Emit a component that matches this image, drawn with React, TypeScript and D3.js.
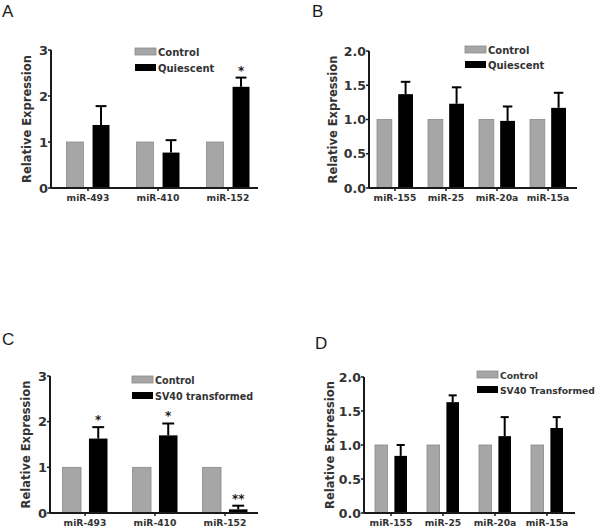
import React from "react";
import * as d3 from "d3";

// panel A / C categories
const mirsAC = ["miR-493", "miR-410", "miR-152"];
// panel B / D categories
const mirsBD = ["miR-155", "miR-25", "miR-20a", "miR-15a"];

const controlA = [1, 1, 1];
const quiescentA = [1.37, 0.77, 2.2];
const quiescentAErr = [0.41, 0.27, 0.2];
const starsA = ["", "", "*"];

const controlB = [1, 1, 1, 1];
const quiescentB = [1.37, 1.23, 0.98, 1.17];
const quiescentBErr = [0.18, 0.24, 0.21, 0.22];
const starsB = ["", "", "", ""];

const controlC = [1, 1, 1];
const sv40C = [1.63, 1.7, 0.08];
const sv40CErr = [0.25, 0.26, 0.08];
const starsC = ["*", "*", "**"];

const controlD = [1, 1, 1, 1];
const sv40D = [0.84, 1.63, 1.13, 1.25];
const sv40DErr = [0.16, 0.1, 0.28, 0.16];
const starsD = ["", "", "", ""];

const ticks3 = [0, 1, 2, 3];
const ticks2 = [0, 0.5, 1, 1.5, 2];

const FONT = "'DejaVu Sans', Verdana, sans-serif";
const GRAY = "#a6a6a6";
const INK = "#1a1a1a";

interface PanelProps {
  letter: string;
  letterPos: [number, number];
  cats: string[];
  control: number[];
  treated: number[];
  err: number[];
  stars: string[];
  legend: [string, string];
  legendSize: number;
  ticks: number[];
  tickFmt: (v: number) => string;
  tickSize: number;
  yMax: number;
  axisX: number;
  axisEnd: number;
  yTop: number;
  yBottom: number;
  firstCenter: number;
  step: number;
  half: number;
  pad: number;
  legendX: number;
  legendY: number;
  legendGap: number;
  labelX: number;
}

const Panel: React.FC<PanelProps> = (p) => {
  const y = d3.scaleLinear().domain([0, p.yMax]).range([p.yBottom, p.yTop]);
  const x = d3
    .scaleBand<string>()
    .domain(p.cats)
    .range([p.firstCenter - p.step / 2, p.firstCenter - p.step / 2 + p.step * p.cats.length]);
  const inner = d3
    .scaleBand<string>()
    .domain(["control", "treated"])
    .range([-p.half, p.half])
    .paddingInner(p.pad);
  const bw = inner.bandwidth();
  const cx = (c: string) => x(c)! + x.bandwidth() / 2;

  return (
    <g>
      <text x={p.letterPos[0]} y={p.letterPos[1]} fontFamily="'Liberation Sans', Arial, sans-serif" fontSize={17} fill={INK}>
        {p.letter}
      </text>

      {/* bars */}
      {p.cats.map((c, i) => (
        <g key={c}>
          <rect
            x={cx(c) + inner("control")!}
            y={y(p.control[i])}
            width={bw}
            height={p.yBottom - y(p.control[i])}
            fill={GRAY}
            stroke="#8a8a8a"
            strokeWidth={0.8}
          />
          <rect
            x={cx(c) + inner("treated")!}
            y={y(p.treated[i])}
            width={bw}
            height={p.yBottom - y(p.treated[i])}
            fill="#000"
          />
          {/* upper error bar */}
          <line
            x1={cx(c) + inner("treated")! + bw / 2}
            x2={cx(c) + inner("treated")! + bw / 2}
            y1={y(p.treated[i])}
            y2={y(p.treated[i] + p.err[i])}
            stroke="#000"
            strokeWidth={2}
          />
          <line
            x1={cx(c) + inner("treated")! + bw * 0.18}
            x2={cx(c) + inner("treated")! + bw * 0.82}
            y1={y(p.treated[i] + p.err[i])}
            y2={y(p.treated[i] + p.err[i])}
            stroke="#000"
            strokeWidth={2}
          />
          {p.stars[i] && (
            <text
              x={cx(c) + inner("treated")! + bw / 2}
              y={y(p.treated[i] + p.err[i]) - 3}
              textAnchor="middle"
              fontFamily={FONT}
              fontWeight="bold"
              fontSize={12}
              fill={INK}
            >
              {p.stars[i]}
            </text>
          )}
          <line x1={cx(c)} x2={cx(c)} y1={p.yBottom} y2={p.yBottom + 3} stroke={INK} strokeWidth={1.5} />
          <text
            x={cx(c)}
            y={p.yBottom + 13}
            textAnchor="middle"
            fontFamily={FONT}
            fontWeight="bold"
            fontSize={9.2}
            fill="#333"
          >
            {c}
          </text>
        </g>
      ))}

      {/* axes */}
      <line x1={p.axisX} x2={p.axisX} y1={p.yTop} y2={p.yBottom} stroke={INK} strokeWidth={2} />
      <line x1={p.axisX} x2={p.axisEnd} y1={p.yBottom} y2={p.yBottom} stroke={INK} strokeWidth={2} />
      {p.ticks.map((t) => (
        <g key={t}>
          <line x1={p.axisX - 3} x2={p.axisX} y1={y(t)} y2={y(t)} stroke={INK} strokeWidth={1.5} />
          <text
            x={p.axisX - 3}
            y={y(t)}
            dy="0.36em"
            textAnchor="end"
            fontFamily={FONT}
            fontWeight="bold"
            fontSize={p.tickSize}
            fill="#333"
          >
            {p.tickFmt(t)}
          </text>
        </g>
      ))}

      <text
        transform={`translate(${p.labelX},${(p.yTop + p.yBottom) / 2}) rotate(-90)`}
        textAnchor="middle"
        dy="0.35em"
        fontFamily={FONT}
        fontWeight="bold"
        fontSize={11.5}
        fill="#333"
      >
        Relative Expression
      </text>

      {/* legend */}
      {p.legend.map((name, i) => (
        <g key={name} transform={`translate(${p.legendX},${p.legendY + i * p.legendGap})`}>
          <rect
            x={0}
            y={0}
            width={21}
            height={7}
            fill={i === 0 ? GRAY : "#000"}
            stroke={i === 0 ? "#8a8a8a" : "none"}
            strokeWidth={0.8}
          />
          <text x={23} y={7.5} fontFamily={FONT} fontWeight="bold" fontSize={p.legendSize} fill="#333">
            {name}
          </text>
        </g>
      ))}
    </g>
  );
};

const intFmt = (v: number) => d3.format("d")(v);
const decFmt = (v: number) => d3.format(".1f")(v);

const App: React.FC = () => {
  return (
    <svg
      width={601}
      height={530}
      style={{ position: "absolute", left: 0, top: 0, background: "#fff" }}
    >
      <rect width={601} height={530} fill="#fff" />
      <Panel
        letter="A"
        letterPos={[2, 17]}
        cats={mirsAC}
        control={controlA}
        treated={quiescentA}
        err={quiescentAErr}
        stars={starsA}
        legend={["Control", "Quiescent"]}
        legendSize={10}
        ticks={ticks3}
        tickFmt={intFmt}
        tickSize={13}
        yMax={3}
        axisX={51}
        axisEnd={258}
        yTop={50}
        yBottom={188}
        firstCenter={88}
        step={70}
        half={21.5}
        pad={0.35}
        legendX={135}
        legendY={48}
        legendGap={16}
        labelX={27}
      />
      <Panel
        letter="B"
        letterPos={[312, 17]}
        cats={mirsBD}
        control={controlB}
        treated={quiescentB}
        err={quiescentBErr}
        stars={starsB}
        legend={["Control", "Quiescent"]}
        legendSize={10}
        ticks={ticks2}
        tickFmt={decFmt}
        tickSize={12.5}
        yMax={2}
        axisX={369}
        axisEnd={577}
        yTop={51}
        yBottom={188}
        firstCenter={395}
        step={51}
        half={18}
        pad={0.3}
        legendX={465}
        legendY={46}
        legendGap={15}
        labelX={333}
      />
      <Panel
        letter="C"
        letterPos={[2, 345]}
        cats={mirsAC}
        control={controlC}
        treated={sv40C}
        err={sv40CErr}
        stars={starsC}
        legend={["Control", "SV40 transformed"]}
        legendSize={9.6}
        ticks={ticks3}
        tickFmt={intFmt}
        tickSize={13}
        yMax={3}
        axisX={50}
        axisEnd={258}
        yTop={376}
        yBottom={513}
        firstCenter={85}
        step={70}
        half={22.5}
        pad={0.3}
        legendX={132}
        legendY={376}
        legendGap={16}
        labelX={25.5}
      />
      <Panel
        letter="D"
        letterPos={[315, 349]}
        cats={mirsBD}
        control={controlD}
        treated={sv40D}
        err={sv40DErr}
        stars={starsD}
        legend={["Control", "SV40 Transformed"]}
        legendSize={9.2}
        ticks={ticks2}
        tickFmt={decFmt}
        tickSize={12.5}
        yMax={2}
        axisX={364}
        axisEnd={575}
        yTop={377}
        yBottom={513}
        firstCenter={391}
        step={52}
        half={16}
        pad={0.35}
        legendX={477}
        legendY={371}
        legendGap={15}
        labelX={330}
      />
    </svg>
  );
};

export default App;
